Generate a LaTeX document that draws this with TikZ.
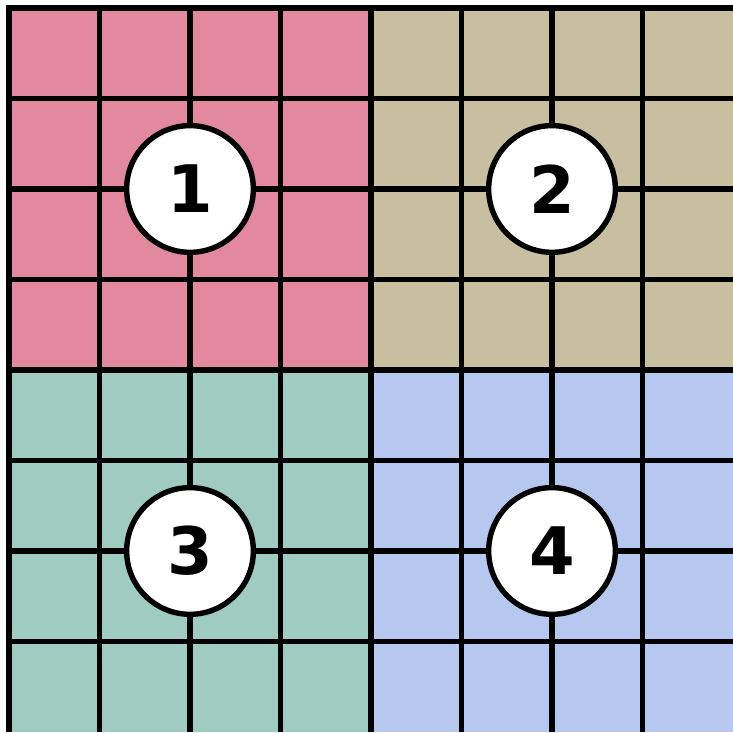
\documentclass[tikz,border=0pt]{standalone}
\usepackage{fontspec}
\newfontfamily\numfont{DejaVu Sans}
\definecolor{quadpink}{RGB}{226,137,160}
\definecolor{quadtan}{RGB}{200,190,160}
\definecolor{quadgreen}{RGB}{159,203,192}
\definecolor{quadblue}{RGB}{182,200,240}
\tikzset{
  gridline/.style={black,line width=1.7pt},
  thickline/.style={black,line width=1.9pt},
  numcircle/.style={circle,draw=black,line width=1.7pt,fill=white,inner sep=0pt,minimum size=1.4cm,font=\numfont\bfseries\fontsize{20.6}{24}\selectfont}
}
\begin{document}
\begin{tikzpicture}
\useasboundingbox (-0.0994,-0.011) rectangle (8,8.088);
\fill[quadpink] (0,4) rectangle (4,8);
\fill[quadtan] (4,4) rectangle (8,8);
\fill[quadgreen] (0,0) rectangle (4,4);
\fill[quadblue] (4,0) rectangle (8,4);
\foreach \x in {1,2,3,5,6,7} {
  \draw[gridline] (\x,0) -- (\x,8);
}
\foreach \y in {1,2,3,5,6,7} {
  \draw[gridline] (0,\y) -- (8,\y);
}
\draw[thickline] (4,0) -- (4,8);
\draw[thickline] (0,4) -- (8,4);
\draw[thickline] (0,0) -- (0,8) -- (8,8);
%\draw[thickline] (8,8) -- (8,0) -- (0,0);
\node[numcircle] (one) at (2,6) {1};
\node[numcircle] (two) at (6,6) {2};
\node[numcircle] (three) at (2,2) {3};
\node[numcircle] (four) at (6,2) {4};
\end{tikzpicture}
\end{document}
